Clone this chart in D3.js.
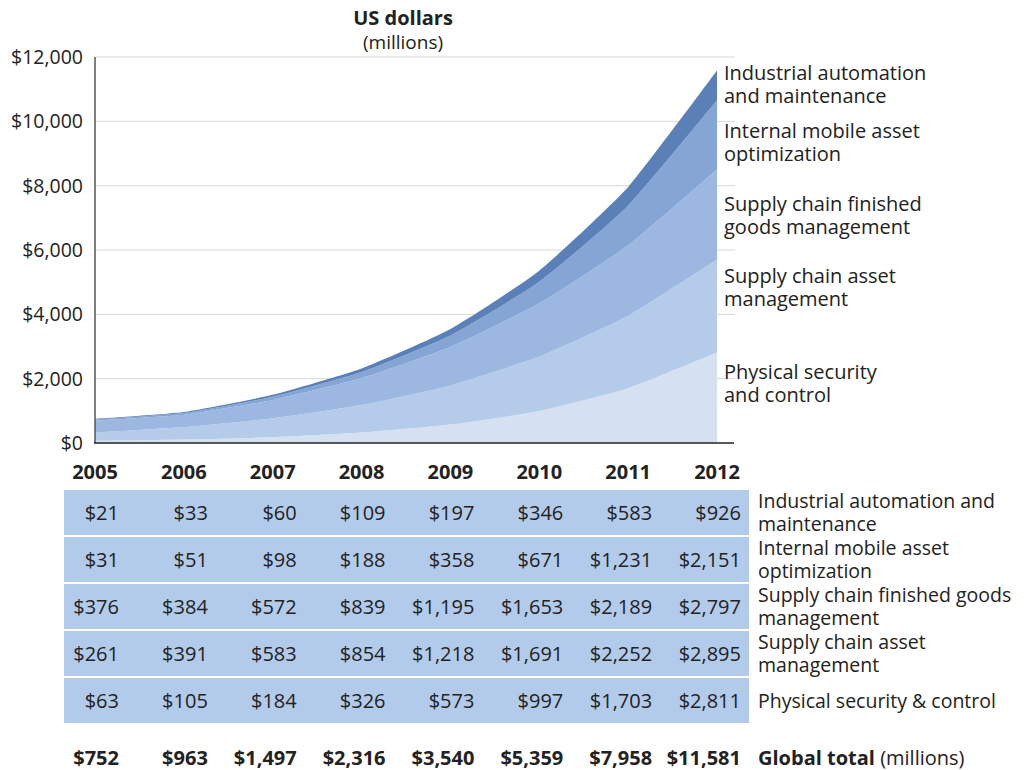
<!DOCTYPE html>
<html>
<head>
<meta charset="utf-8">
<script src="https://cdn.jsdelivr.net/npm/d3@7"></script>
<style>
  body { margin: 0; background: #fff; }
  svg text { font-family: "Open Sans", "Noto Sans", sans-serif; fill: #222; }
</style>
</head>
<body>
<svg id="chart" width="1029" height="770"></svg>
<script>
const years = [2005, 2006, 2007, 2008, 2009, 2010, 2011, 2012];
// stacked bottom to top
const physical = [63, 105, 184, 326, 573, 997, 1703, 2811];
const assetMgmt = [261, 391, 583, 854, 1218, 1691, 2252, 2895];
const finishedGoods = [376, 384, 572, 839, 1195, 1653, 2189, 2797];
const mobileAsset = [31, 51, 98, 188, 358, 671, 1231, 2151];
const industrial = [21, 33, 60, 109, 197, 346, 583, 926];
const totals = [752, 963, 1497, 2316, 3540, 5359, 7958, 11581];
const yTicks = [0, 2000, 4000, 6000, 8000, 10000, 12000];

const seriesKeys = ["physical", "assetMgmt", "finishedGoods", "mobileAsset", "industrial"];
const seriesData = { physical, assetMgmt, finishedGoods, mobileAsset, industrial };
const colors = {
  physical: "#d5e1f0",
  assetMgmt: "#b4cbea",
  finishedGoods: "#9cb8e0",
  mobileAsset: "#85a6d4",
  industrial: "#5b80b8"
};
const chartLabels = {
  industrial: ["Industrial automation", "and maintenance"],
  mobileAsset: ["Internal mobile asset", "optimization"],
  finishedGoods: ["Supply chain finished", "goods management"],
  assetMgmt: ["Supply chain asset", "management"],
  physical: ["Physical security", "and control"]
};
const chartLabelY = { industrial: 73, mobileAsset: 131, finishedGoods: 204, assetMgmt: 276, physical: 372 };

// table rows top to bottom
const tableKeys = ["industrial", "mobileAsset", "finishedGoods", "assetMgmt", "physical"];
const tableLabels = {
  industrial: ["Industrial automation and", "maintenance"],
  mobileAsset: ["Internal mobile asset", "optimization"],
  finishedGoods: ["Supply chain finished goods", "management"],
  assetMgmt: ["Supply chain asset", "management"],
  physical: ["Physical security & control"]
};

const svg = d3.select("#chart");

const x = d3.scaleLinear().domain([2005, 2012]).range([95, 717]);
const y = d3.scaleLinear().domain([0, 12000]).range([443, 57]);
const fmt = d => "$" + d3.format(",")(d);

// title
svg.append("text").attr("x", 403).attr("y", 25).attr("text-anchor", "middle")
  .style("font-weight", "bold").style("font-size", "20px").text("US dollars");
svg.append("text").attr("x", 403).attr("y", 49).attr("text-anchor", "middle")
  .style("font-size", "19px").text("(millions)");

// grid
svg.append("g").selectAll("line").data(yTicks.filter(d => d > 0)).enter().append("line")
  .attr("x1", 95).attr("x2", 735)
  .attr("y1", d => y(d)).attr("y2", d => y(d))
  .attr("stroke", "#d8d8d8").attr("stroke-width", 1);

// y axis labels
svg.append("g").selectAll("text").data(yTicks).enter().append("text")
  .attr("x", 83).attr("y", d => y(d) + 7)
  .attr("text-anchor", "end").style("font-size", "19.5px")
  .text(d => fmt(d));

// stacked areas
const rows = years.map((yr, i) => {
  const r = { year: yr };
  seriesKeys.forEach(k => r[k] = seriesData[k][i]);
  return r;
});
const stack = d3.stack().keys(seriesKeys);
const layers = stack(rows);
const area = d3.area()
  .curve(d3.curveCardinal.tension(0.5))
  .x(d => x(d.data.year))
  .y0(d => y(d[0]))
  .y1(d => y(d[1]));

svg.append("g").selectAll("path").data(layers).enter().append("path")
  .attr("d", area)
  .attr("fill", d => colors[d.key]);

// axes lines
svg.append("line").attr("x1", 95).attr("x2", 95).attr("y1", 57).attr("y2", 443)
  .attr("stroke", "#555").attr("stroke-width", 1.5);
svg.append("line").attr("x1", 94).attr("x2", 734).attr("y1", 443).attr("y2", 443)
  .attr("stroke", "#222").attr("stroke-width", 1.5);

// chart labels on right
seriesKeys.forEach(k => {
  const t = svg.append("text").attr("x", 724).attr("y", chartLabelY[k] + 7).style("font-size", "20px");
  chartLabels[k].forEach((line, j) => {
    t.append("tspan").attr("x", 724).attr("dy", j === 0 ? 0 : 23).text(line);
  });
});

// year headers
svg.append("g").selectAll("text").data(years).enter().append("text")
  .attr("x", d => x(d)).attr("y", 479)
  .attr("text-anchor", "middle").style("font-weight", "bold").style("font-size", "20px")
  .text(d => d);

// table bands
const rowTop = d3.scaleLinear().domain([0, 5]).range([490, 725]);
const rowH = 45;
svg.append("g").selectAll("rect").data(tableKeys).enter().append("rect")
  .attr("x", 64).attr("width", 685)
  .attr("y", (d, i) => rowTop(i)).attr("height", rowH)
  .attr("fill", "#b3cbea");

tableKeys.forEach((k, i) => {
  const cy = rowTop(i) + rowH / 2;
  svg.append("g").selectAll("text").data(seriesData[k]).enter().append("text")
    .attr("x", (d, j) => x(years[j]) + 24).attr("y", cy + 7)
    .attr("text-anchor", "end").style("font-size", "20px")
    .text(d => fmt(d));
  const lines = tableLabels[k];
  const t = svg.append("text").attr("x", 758)
    .attr("y", lines.length === 1 ? cy + 7 : cy - 5).style("font-size", "19.5px");
  lines.forEach((line, j) => {
    t.append("tspan").attr("x", 758).attr("dy", j === 0 ? 0 : 23).text(line);
  });
});

// totals
svg.append("g").selectAll("text").data(totals).enter().append("text")
  .attr("x", (d, j) => x(years[j]) + 24).attr("y", 765)
  .attr("text-anchor", "end").style("font-weight", "bold").style("font-size", "20px")
  .text(d => fmt(d));
const gt = svg.append("text").attr("x", 758).attr("y", 765).style("font-size", "20px");
gt.append("tspan").style("font-weight", "bold").text("Global total");
gt.append("tspan").text(" (millions)");
</script>
</body>
</html>
